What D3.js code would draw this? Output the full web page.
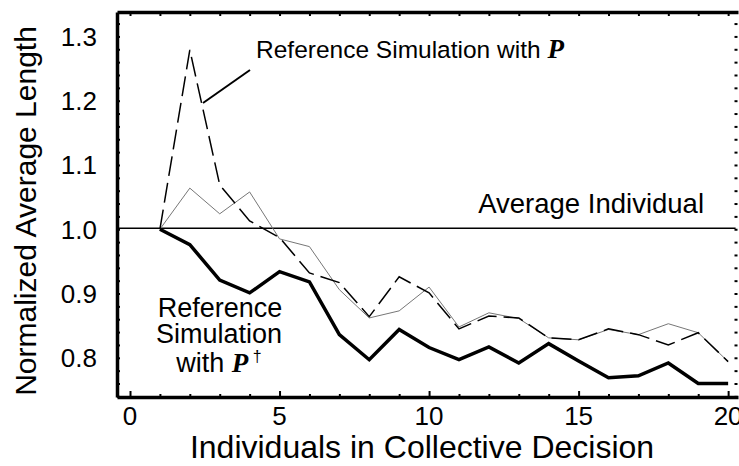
<!DOCTYPE html>
<html>
<head>
<meta charset="utf-8">
<script src="https://cdn.jsdelivr.net/npm/d3@7"></script>
<style>
  body { margin: 0; background: #fff; }
  svg { display: block; font-family: "Liberation Sans", Arial, sans-serif; }
</style>
</head>
<body>
<div class="chart-wrapper"></div>
<script>
// group size (number of individuals)
const individuals = d3.range(1, 21)

// reference simulation with P-dagger (thick line)
const refDagger = [1.000, 0.976, 0.921, 0.901, 0.934, 0.918, 0.836, 0.797, 0.844, 0.816,
                   0.797, 0.817, 0.792, 0.822, 0.795, 0.769, 0.772, 0.792, 0.760, 0.760]
// thin grey line
const thinSeries = [1.000, 1.064, 1.024, 1.058, 0.985, 0.973, 0.906, 0.862, 0.873, 0.910,
                    0.848, 0.870, 0.861, 0.831, 0.828, 0.844, 0.836, 0.853, 0.839, 0.794]
// reference simulation with P (dashed)
const refP = [1.000, 1.279, 1.069, 1.013, 0.987, 0.932, 0.917, 0.864, 0.926, 0.901,
              0.845, 0.865, 0.862, 0.831, 0.828, 0.845, 0.836, 0.820, 0.839, 0.794]

const averageIndividual = 1.0
const xTickLabels = [0, 5, 10, 15, 20]
const yTickLabels = [0.8, 0.9, 1.0, 1.1, 1.2, 1.3]

const width = 739, height = 466
const margin = {top: 12, right: 1, bottom: 69, left: 117}

const svg = d3.select('.chart-wrapper')
  .append('svg')
  .attr('width', width)
  .attr('height', height)

const x = d3.scaleLinear()
  .domain([-0.435, 20.33])
  .range([margin.left, width - margin.right])

const y = d3.scaleLinear()
  .domain([0.739, 1.338])
  .range([height - margin.bottom, margin.top])

const xMinor = d3.range(0, 21)
const yMinor = d3.range(0, 30).map(i => +(0.74 + i * 0.02).toFixed(2))

// bottom axis
const xAxis = svg.append('g')
  .attr('transform', 'translate(0,' + (height - margin.bottom) + ')')
  .call(d3.axisBottom(x).tickValues(xMinor).tickSize(-3).tickSizeOuter(0).tickFormat(''))
xAxis.select('.domain').attr('stroke-width', 3.5)
xAxis.selectAll('.tick line')
  .attr('stroke-width', 2)
  .attr('y2', d => xTickLabels.includes(d) ? -6 : -3)

svg.append('g')
  .selectAll('text')
  .data(xTickLabels)
  .enter()
  .append('text')
  .attr('x', d => x(d))
  .attr('y', 425)
  .attr('text-anchor', 'middle')
  .attr('font-size', 26)
  .text(d => d)

// top axis
const topAxis = svg.append('g')
  .attr('transform', 'translate(0,' + margin.top + ')')
  .call(d3.axisTop(x).tickValues(xMinor).tickSize(-4).tickSizeOuter(0).tickFormat(''))
topAxis.select('.domain').attr('stroke-width', 3.5)
topAxis.selectAll('.tick line').attr('stroke-width', 2)

// left axis
const yAxis = svg.append('g')
  .attr('transform', 'translate(' + margin.left + ',0)')
  .call(d3.axisLeft(y).tickValues(yMinor).tickSize(-3).tickSizeOuter(0).tickFormat(''))
yAxis.select('.domain').attr('stroke-width', 3.5)
yAxis.selectAll('.tick line').attr('stroke-width', 2)

svg.append('g')
  .selectAll('text')
  .data(yTickLabels)
  .enter()
  .append('text')
  .attr('x', 97)
  .attr('y', d => y(d))
  .attr('dy', '0.36em')
  .attr('text-anchor', 'end')
  .attr('font-size', 26)
  .text(d => d.toFixed(1))

// right side: ticks only
const rightAxis = svg.append('g')
  .attr('transform', 'translate(' + (width - 1.5) + ',0)')
  .call(d3.axisRight(y).tickValues(yMinor).tickSize(-3).tickSizeOuter(0).tickFormat(''))
rightAxis.select('.domain').remove()
rightAxis.selectAll('.tick line').attr('stroke-width', 2)

// axis titles
svg.append('text')
  .attr('transform', 'translate(36,211) rotate(-90)')
  .attr('text-anchor', 'middle')
  .attr('font-size', 30)
  .text('Normalized Average Length')

svg.append('text')
  .attr('x', 422)
  .attr('y', 458)
  .attr('text-anchor', 'middle')
  .attr('font-size', 32)
  .text('Individuals in Collective Decision')

// average individual reference line
svg.append('line')
  .attr('x1', x(-0.4))
  .attr('x2', x(20.25))
  .attr('y1', y(averageIndividual) - 1)
  .attr('y2', y(averageIndividual) - 1)
  .attr('stroke', '#000')
  .attr('stroke-width', 1.5)

const line = d3.line()
  .x((d, i) => x(individuals[i]))
  .y(d => y(d))

svg.append('path')
  .datum(thinSeries)
  .attr('d', line)
  .attr('fill', 'none')
  .attr('stroke', '#777')
  .attr('stroke-width', 1)

svg.append('path')
  .datum(refP)
  .attr('d', line)
  .attr('fill', 'none')
  .attr('stroke', '#000')
  .attr('stroke-width', 1.5)
  .attr('stroke-dasharray', '20,7')

svg.append('path')
  .datum(refDagger)
  .attr('d', line)
  .attr('fill', 'none')
  .attr('stroke', '#000')
  .attr('stroke-width', 3.5)
  .attr('stroke-linejoin', 'miter')

// annotations
const topLabel = svg.append('text')
  .attr('x', 256)
  .attr('y', 58)
  .attr('font-size', 24.5)
topLabel.append('tspan').text('Reference Simulation with ')
topLabel.append('tspan')
  .attr('font-family', '"Liberation Serif", "Times New Roman", serif')
  .attr('font-weight', 'bold')
  .attr('font-style', 'italic')
  .attr('font-size', 27)
  .text('P')

svg.append('line')
  .attr('x1', 250).attr('y1', 70)
  .attr('x2', 203).attr('y2', 103)
  .attr('stroke', '#000')
  .attr('stroke-width', 2)

svg.append('text')
  .attr('x', 704)
  .attr('y', 213)
  .attr('text-anchor', 'end')
  .attr('font-size', 27.5)
  .text('Average Individual')

const block = svg.append('text')
  .attr('text-anchor', 'middle')
  .attr('font-size', 27)
block.append('tspan').attr('x', 220).attr('y', 317).text('Reference')
block.append('tspan').attr('x', 219).attr('y', 343).text('Simulation')
const last = block.append('tspan').attr('x', 219).attr('y', 372)
last.append('tspan').text('with ')
last.append('tspan')
  .attr('font-family', '"Liberation Serif", "Times New Roman", serif')
  .attr('font-weight', 'bold')
  .attr('font-style', 'italic')
  .attr('font-size', 27)
  .text('P')
last.append('tspan')
  .attr('font-size', 16)
  .attr('dy', -10)
  .text(' \u2020')
</script>
</body>
</html>
